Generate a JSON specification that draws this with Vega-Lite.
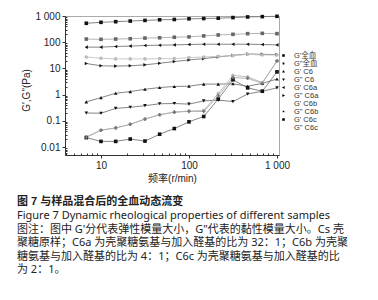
{
  "$schema": "https://vega.github.io/schema/vega-lite/v6.json",
  "width": 214,
  "height": 139,
  "autosize": {"type": "none"},
  "padding": {"left": 65, "top": 16, "right": 99, "bottom": 145},
  "background": "white",
  "config": {
    "view": {"stroke": "#aaa", "strokeWidth": 1},
    "font": "Liberation Sans, Noto Sans CJK SC",
    "axis": {
      "grid": false,
      "labelFont": "Liberation Sans, Noto Sans CJK SC",
      "titleFont": "Liberation Sans, Noto Sans CJK SC",
      "labelFontSize": 10,
      "titleFontSize": 10,
      "titleFontWeight": "normal",
      "labelColor": "#222",
      "titleColor": "#222",
      "domainColor": "#333",
      "tickColor": "#333"
    },
    "legend": {
      "labelFont": "Liberation Sans, Noto Sans CJK SC",
      "labelFontSize": 7.5,
      "labelColor": "#333"
    }
  },
  "title": {
    "text": "图 7  与样品混合后的全血动态流变",
    "subtitle": [
      "Figure 7  Dynamic rheological properties of different samples",
      "图注：图中 G'分代表弹性模量大小，G\"代表的黏性模量大小。Cs 壳",
      "聚糖原样；C6a 为壳聚糖氨基与加入醛基的比为 32：1；C6b 为壳聚",
      "糖氨基与加入醛基的比为 4：1；C6c 为壳聚糖氨基与加入醛基的比",
      "为 2：1。"
    ],
    "orient": "bottom",
    "anchor": "start",
    "frame": "group",
    "dx": -48,
    "offset": 13,
    "font": "Liberation Sans, Noto Sans CJK SC",
    "fontSize": 11,
    "fontWeight": "bold",
    "color": "#222",
    "subtitleFont": "Noto Sans, Noto Sans CJK SC",
    "subtitleFontSize": 11,
    "subtitleColor": "#222",
    "subtitleLineHeight": 13.5,
    "subtitlePadding": 3
  },
  "data": {
    "values": [
      {"s": "G'全血", "x": 6.81, "y": 528}, {"s": "G'全血", "x": 10, "y": 574}, {"s": "G'全血", "x": 14.7, "y": 607}, {"s": "G'全血", "x": 21.5, "y": 641}, {"s": "G'全血", "x": 31.6, "y": 678}, {"s": "G'全血", "x": 46.4, "y": 717}, {"s": "G'全血", "x": 68.1, "y": 736}, {"s": "G'全血", "x": 100, "y": 780}, {"s": "G'全血", "x": 147, "y": 801}, {"s": "G'全血", "x": 215, "y": 824}, {"s": "G'全血", "x": 316, "y": 871}, {"s": "G'全血", "x": 464, "y": 920}, {"s": "G'全血", "x": 681, "y": 946}, {"s": "G'全血", "x": 1000, "y": 973},
      {"s": "G\"全血", "x": 6.81, "y": 132}, {"s": "G\"全血", "x": 10, "y": 129}, {"s": "G\"全血", "x": 14.7, "y": 132}, {"s": "G\"全血", "x": 21.5, "y": 136}, {"s": "G\"全血", "x": 31.6, "y": 144}, {"s": "G\"全血", "x": 46.4, "y": 148}, {"s": "G\"全血", "x": 68.1, "y": 155}, {"s": "G\"全血", "x": 100, "y": 160}, {"s": "G\"全血", "x": 147, "y": 174}, {"s": "G\"全血", "x": 215, "y": 189}, {"s": "G\"全血", "x": 316, "y": 200}, {"s": "G\"全血", "x": 464, "y": 212}, {"s": "G\"全血", "x": 681, "y": 218}, {"s": "G\"全血", "x": 1000, "y": 212},
      {"s": "G' C6", "x": 6.81, "y": 0.53}, {"s": "G' C6", "x": 10, "y": 0.77}, {"s": "G' C6", "x": 14.7, "y": 1.13}, {"s": "G' C6", "x": 21.5, "y": 1.31}, {"s": "G' C6", "x": 31.6, "y": 1.61}, {"s": "G' C6", "x": 46.4, "y": 1.87}, {"s": "G' C6", "x": 68.1, "y": 2.05}, {"s": "G' C6", "x": 100, "y": 2.11}, {"s": "G' C6", "x": 147, "y": 2.53}, {"s": "G' C6", "x": 215, "y": 2.53}, {"s": "G' C6", "x": 316, "y": 2.6}, {"s": "G' C6", "x": 464, "y": 2.1}, {"s": "G' C6", "x": 681, "y": 2.68}, {"s": "G' C6", "x": 1000, "y": 3.96},
      {"s": "G\" C6", "x": 6.81, "y": 0.2}, {"s": "G\" C6", "x": 10, "y": 0.196}, {"s": "G\" C6", "x": 14.7, "y": 0.3}, {"s": "G\" C6", "x": 21.5, "y": 0.33}, {"s": "G\" C6", "x": 31.6, "y": 0.38}, {"s": "G\" C6", "x": 46.4, "y": 0.45}, {"s": "G\" C6", "x": 68.1, "y": 0.46}, {"s": "G\" C6", "x": 100, "y": 0.435}, {"s": "G\" C6", "x": 147, "y": 0.58}, {"s": "G\" C6", "x": 215, "y": 0.62}, {"s": "G\" C6", "x": 316, "y": 0.545}, {"s": "G\" C6", "x": 464, "y": 1.06}, {"s": "G\" C6", "x": 681, "y": 1.35}, {"s": "G\" C6", "x": 1000, "y": 1.82},
      {"s": "G' C6a", "x": 6.81, "y": 65}, {"s": "G' C6a", "x": 10, "y": 65}, {"s": "G' C6a", "x": 14.7, "y": 69}, {"s": "G' C6a", "x": 21.5, "y": 71}, {"s": "G' C6a", "x": 31.6, "y": 75}, {"s": "G' C6a", "x": 46.4, "y": 77}, {"s": "G' C6a", "x": 68.1, "y": 79}, {"s": "G' C6a", "x": 100, "y": 82}, {"s": "G' C6a", "x": 147, "y": 84}, {"s": "G' C6a", "x": 215, "y": 84}, {"s": "G' C6a", "x": 316, "y": 84}, {"s": "G' C6a", "x": 464, "y": 84}, {"s": "G' C6a", "x": 681, "y": 82}, {"s": "G' C6a", "x": 1000, "y": 79},
      {"s": "G\" C6a", "x": 6.81, "y": 15.4}, {"s": "G\" C6a", "x": 10, "y": 12.6}, {"s": "G\" C6a", "x": 14.7, "y": 12.3}, {"s": "G\" C6a", "x": 21.5, "y": 12.6}, {"s": "G\" C6a", "x": 31.6, "y": 13.7}, {"s": "G\" C6a", "x": 46.4, "y": 15.8}, {"s": "G\" C6a", "x": 68.1, "y": 18.3}, {"s": "G\" C6a", "x": 100, "y": 21.1}, {"s": "G\" C6a", "x": 147, "y": 23.7}, {"s": "G\" C6a", "x": 215, "y": 27.4}, {"s": "G\" C6a", "x": 316, "y": 31.6}, {"s": "G\" C6a", "x": 464, "y": 35.5}, {"s": "G\" C6a", "x": 681, "y": 34.6}, {"s": "G\" C6a", "x": 1000, "y": 33.7},
      {"s": "G' C6b", "x": 6.81, "y": 27.4}, {"s": "G' C6b", "x": 10, "y": 24.5}, {"s": "G' C6b", "x": 14.7, "y": 23.1}, {"s": "G' C6b", "x": 21.5, "y": 23.1}, {"s": "G' C6b", "x": 31.6, "y": 23.1}, {"s": "G' C6b", "x": 46.4, "y": 23.7}, {"s": "G' C6b", "x": 68.1, "y": 23.7}, {"s": "G' C6b", "x": 100, "y": 25.9}, {"s": "G' C6b", "x": 147, "y": 27.4}, {"s": "G' C6b", "x": 215, "y": 29}, {"s": "G' C6b", "x": 316, "y": 30.7}, {"s": "G' C6b", "x": 464, "y": 34.5}, {"s": "G' C6b", "x": 681, "y": 32.6}, {"s": "G' C6b", "x": 1000, "y": 32.6},
      {"s": "G\" C6b", "x": 6.81, "y": 0.024}, {"s": "G\" C6b", "x": 10, "y": 0.044}, {"s": "G\" C6b", "x": 14.7, "y": 0.054}, {"s": "G\" C6b", "x": 21.5, "y": 0.074}, {"s": "G\" C6b", "x": 31.6, "y": 0.117}, {"s": "G\" C6b", "x": 46.4, "y": 0.172}, {"s": "G\" C6b", "x": 68.1, "y": 0.215}, {"s": "G\" C6b", "x": 100, "y": 0.237}, {"s": "G\" C6b", "x": 147, "y": 0.25}, {"s": "G\" C6b", "x": 215, "y": 1.1}, {"s": "G\" C6b", "x": 316, "y": 5.5}, {"s": "G\" C6b", "x": 464, "y": 4.8}, {"s": "G\" C6b", "x": 681, "y": 2.9}, {"s": "G\" C6b", "x": 1000, "y": 19},
      {"s": "G' C6c", "x": 6.81, "y": 0.023}, {"s": "G' C6c", "x": 10, "y": 0.0165}, {"s": "G' C6c", "x": 14.7, "y": 0.0165}, {"s": "G' C6c", "x": 21.5, "y": 0.0203}, {"s": "G' C6c", "x": 31.6, "y": 0.017}, {"s": "G' C6c", "x": 46.4, "y": 0.031}, {"s": "G' C6c", "x": 68.1, "y": 0.051}, {"s": "G' C6c", "x": 100, "y": 0.092}, {"s": "G' C6c", "x": 147, "y": 0.147}, {"s": "G' C6c", "x": 215, "y": 0.68}, {"s": "G' C6c", "x": 316, "y": 3.7}, {"s": "G' C6c", "x": 464, "y": 1.82}, {"s": "G' C6c", "x": 681, "y": 1.35}, {"s": "G' C6c", "x": 1000, "y": 7.4},
      {"s": "G\" C6c", "x": 6.81, "y": 0.024}, {"s": "G\" C6c", "x": 10, "y": 0.044}, {"s": "G\" C6c", "x": 14.7, "y": 0.054}, {"s": "G\" C6c", "x": 21.5, "y": 0.074}, {"s": "G\" C6c", "x": 31.6, "y": 0.117}, {"s": "G\" C6c", "x": 46.4, "y": 0.172}, {"s": "G\" C6c", "x": 68.1, "y": 0.215}, {"s": "G\" C6c", "x": 100, "y": 0.23}, {"s": "G\" C6c", "x": 147, "y": 0.23}, {"s": "G\" C6c", "x": 215, "y": 0.9}, {"s": "G\" C6c", "x": 316, "y": 4.5}, {"s": "G\" C6c", "x": 464, "y": 4.2}, {"s": "G\" C6c", "x": 681, "y": 2.7}, {"s": "G\" C6c", "x": 1000, "y": 19.5}
    ]
  },
  "layer": [
    {
      "mark": {"type": "line", "strokeWidth": 0.9},
      "encoding": {
        "x": {
          "field": "x", "type": "quantitative",
          "scale": {"type": "log", "domain": [3.9, 1054], "nice": false},
          "axis": {
            "title": "频率(r/min)",
            "orient": "bottom",
            "values": [4, 5, 6, 7, 8, 9, 10, 20, 30, 40, 50, 60, 70, 80, 90, 100, 200, 300, 400, 500, 600, 700, 800, 900, 1000],
            "labelExpr": "indexof([10, 100, 1000], datum.value) >= 0 ? replace(format(datum.value, ','), ',', ' ') : ''",
            "tickSize": {"condition": {"test": "indexof([10, 100, 1000], datum.value) >= 0", "value": 3}, "value": -2},
            "labelPadding": 2,
            "titlePadding": 3
          }
        },
        "y": {
          "field": "y", "type": "quantitative",
          "scale": {"type": "log", "domain": [0.005, 1000], "nice": false},
          "axis": {
            "title": "G',G\"(Pa)",
            "orient": "left",
            "values": [0.006, 0.007, 0.008, 0.009, 0.01, 0.02, 0.03, 0.04, 0.05, 0.06, 0.07, 0.08, 0.09, 0.1, 0.2, 0.3, 0.4, 0.5, 0.6, 0.7, 0.8, 0.9, 1, 2, 3, 4, 5, 6, 7, 8, 9, 10, 20, 30, 40, 50, 60, 70, 80, 90, 100, 200, 300, 400, 500, 600, 700, 800, 900, 1000],
            "labelExpr": "indexof([0.01, 0.1, 1, 10, 100, 1000], datum.value) >= 0 ? replace(format(datum.value, ','), ',', ' ') : ''",
            "tickSize": {"condition": {"test": "indexof([0.01, 0.1, 1, 10, 100, 1000], datum.value) >= 0", "value": 3}, "value": -2},
            "labelPadding": 2,
            "titlePadding": 3,
            "titleY": 74
          }
        },
        "stroke": {
          "field": "s", "type": "nominal",
          "scale": {"domain": ["G'全血", "G\"全血", "G' C6", "G\" C6", "G' C6a", "G\" C6a", "G' C6b", "G\" C6b", "G' C6c", "G\" C6c"], "range": ["#777", "#aaa", "#777", "#777", "#777", "#777", "#c4c4c4", "#bbb", "#777", "#aaa"]},
          "legend": null
        }
      }
    },
    {
      "mark": {"type": "point", "filled": true, "size": 13, "opacity": 1},
      "encoding": {
        "x": {"field": "x", "type": "quantitative"},
        "y": {"field": "y", "type": "quantitative"},
        "shape": {
          "field": "s", "type": "nominal",
          "scale": {"domain": ["G'全血", "G\"全血", "G' C6", "G\" C6", "G' C6a", "G\" C6a", "G' C6b", "G\" C6b", "G' C6c", "G\" C6c"], "range": ["square", "square", "triangle-up", "triangle-down", "triangle-left", "triangle-right", "circle", "circle", "square", "cross"]},
          "legend": null
        },
        "fill": {
          "field": "s", "type": "nominal",
          "scale": {"domain": ["G'全血", "G\"全血", "G' C6", "G\" C6", "G' C6a", "G\" C6a", "G' C6b", "G\" C6b", "G' C6c", "G\" C6c"], "range": ["#111", "#666", "#111", "#111", "#111", "#111", "#bbb", "#bbb", "#111", "#777"]},
          "legend": null
        }
      }
    },
    {
      "transform": [{"filter": "false"}],
      "mark": {"type": "point", "filled": true, "size": 13, "strokeWidth": 0.8, "opacity": 1},
      "encoding": {
        "x": {"field": "x", "type": "quantitative"},
        "y": {"field": "y", "type": "quantitative"},
        "shape": {
          "field": "s", "type": "nominal",
          "scale": {"domain": ["G'全血", "G\"全血", "G' C6", "G\" C6", "G' C6a", "G\" C6a", "G' C6b", "G\" C6b", "G' C6c", "G\" C6c"], "range": [
            "M-1.4,0H1.4M-0.32,-0.32H0.32V0.32H-0.32Z",
            "M-1.4,0H1.4M-0.22,-0.22H0.22V0.22H-0.22Z",
            "M-1.4,0H1.4M0,-0.38L0.36,0.28H-0.36Z",
            "M-1.4,0H1.4M0,0.38L0.36,-0.28H-0.36Z",
            "M-1.4,0H1.4M-0.38,0L0.28,-0.36V0.36Z",
            "M-1.4,0H1.4M0.38,0L-0.28,-0.36V0.36Z",
            "M-1.4,0H1.4",
            "M-1.4,0H1.4M-0.2,-0.2H0.2V0.2H-0.2Z",
            "M-1.4,0H1.4M-0.32,-0.32H0.32V0.32H-0.32Z",
            "M-1.4,0H1.4M0,-0.35V0.35M-0.3,-0.2L0.3,0.2M-0.3,0.2L0.3,-0.2"
          ]},
          "legend": {"title": null, "orient": "none", "legendX": 214, "legendY": 35, "symbolSize": 64, "rowPadding": 0, "labelOffset": 6, "symbolStrokeWidth": 0.8}
        },
        "fill": {
          "field": "s", "type": "nominal",
          "legend": {"title": null, "orient": "none", "legendX": 214, "legendY": 35, "symbolSize": 64, "rowPadding": 0, "labelOffset": 6, "symbolStrokeWidth": 0.8}
        },
        "stroke": {
          "field": "s", "type": "nominal",
          "legend": {"title": null, "orient": "none", "legendX": 214, "legendY": 35, "symbolSize": 64, "rowPadding": 0, "labelOffset": 6, "symbolStrokeWidth": 0.8}
        }
      }
    }
  ],
  "resolve": {"scale": {"shape": "independent"}}
}
